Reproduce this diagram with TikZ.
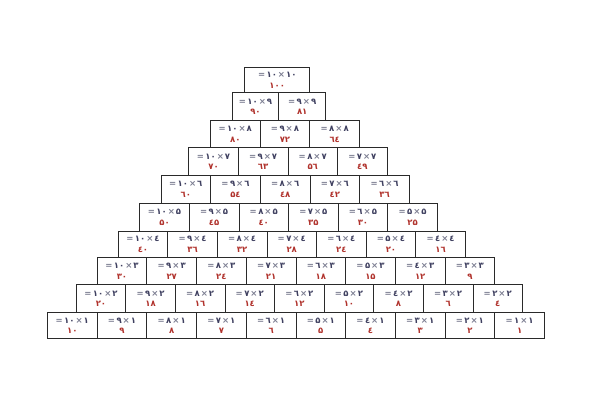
\documentclass[tikz,border=0pt]{standalone}
\usepackage{fontspec}
\newfontfamily\fa{DejaVu Sans}
\definecolor{opc}{HTML}{3F4060}
\definecolor{sym}{HTML}{7A7C90}
\definecolor{prc}{HTML}{B0322C}
\definecolor{edge}{HTML}{2A2A2A}
\newcommand\pdig[1]{\ifcase#1 ٠\or ١\or ٢\or ٣\or ٤\or ۵\or ٦\or ٧\or ٨\or ٩\fi}
\newcommand\pnum[1]{\hbox{\ifnum#1<10 \pdig{#1}\else\ifnum#1<100 \pdig{\the\numexpr(#1-5)/10\relax}\pdig{\the\numexpr#1-10*((#1-5)/10)\relax}\else ١٠٠\fi\fi}}
\tikzset{
  cell/.style={draw=edge, line width=0.9pt, anchor=north west, inner sep=0pt,
    align=center, font=\fa\bfseries\fontsize{8.5}{10.5}\selectfont},
}
\begin{document}
\begin{tikzpicture}[x=1pt,y=-1pt]
\useasboundingbox (0,0) rectangle (600,411);
\foreach \r/\xl/\ww/\yt/\yb in {
  1/244.3/65/67.3/92.3,
  2/231.7/46.7/92.3/120,
  3/210/49.7/120/147.3,
  4/188.3/49.6/147.3/175,
  5/160.5/49.7/175/202.7,
  6/139.3/49.6/202.7/230.7,
  7/117.7/49.6/230.7/257.3,
  8/96.7/49.7/257.3/284.3,
  9/75.7/49.6/284.3/312.3,
  10/47/49.7/312.3/338.3}{
  \pgfmathtruncatemacro\m{11-\r}
  \pgfmathsetmacro\hh{\yb-\yt}
  \foreach \j in {1,...,\r}{
    \pgfmathtruncatemacro\a{11-\j}
    \pgfmathtruncatemacro\p{\a*\m}
    \pgfmathsetmacro\xx{\xl+(\j-1)*\ww}
    \node[cell, minimum width=\ww pt, minimum height=\hh pt] (b\r-\j) at (\xx,\yt)
      {\textcolor{sym}{=}\,\textcolor{opc}{\pnum{\a}}\kern1pt\textcolor{sym}{\hbox{×}}\kern1pt\textcolor{opc}{\pnum{\m}}\\\textcolor{prc}{\pnum{\p}}};
  }
}
\end{tikzpicture}
\end{document}
